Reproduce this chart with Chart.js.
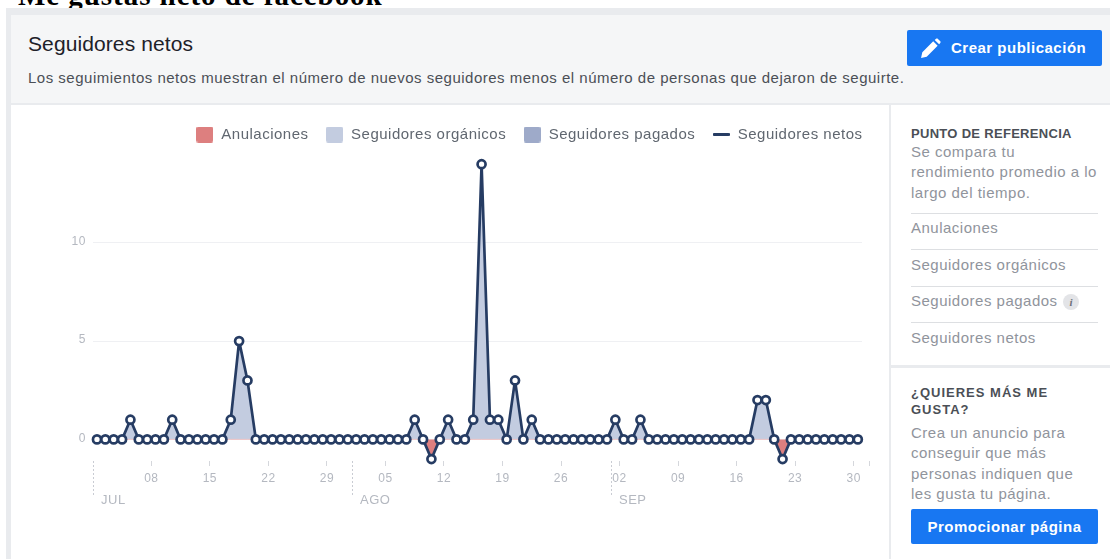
<!DOCTYPE html>
<html lang="es">
<head>
<meta charset="utf-8">
<title>Seguidores netos</title>
<script src="https://cdn.jsdelivr.net/npm/chart.js@4"></script>
<style>
html,body{margin:0;padding:0;background:#fff}
body{width:1110px;height:559px;overflow:hidden;position:relative;font-family:"Liberation Sans",Arial,sans-serif}
.abs{position:absolute;white-space:nowrap}
.boton{position:absolute;background:#1877f2;color:#fff;font-weight:bold;font-size:15px;letter-spacing:.5px;border-radius:2px;text-align:center}
.linea{position:absolute;left:911px;width:187px;height:1px;background:#dddfe2}
.gris{color:#90949c;font-size:15px;letter-spacing:.5px;line-height:20.3px}
</style>
</head>
<body>
<div class="abs" style="left:18px;top:-21px;font:bold 29px 'Liberation Serif',serif;letter-spacing:.95px;color:#000">Me gustas neto de facebook</div>
<div class="abs" style="left:6px;top:8px;width:1104px;height:7px;background:#e9ebee"></div>
<div class="abs" style="left:6px;top:8px;width:5px;height:551px;background:#e9ebee"></div>
<div class="abs" style="left:11px;top:15px;width:1099px;height:88px;background:#f5f6f7"></div>
<div class="abs" style="left:11px;top:103px;width:1099px;height:2px;background:#e9ebee"></div>
<div class="abs" style="left:28px;top:32px;font-size:21px;letter-spacing:.1px;color:#1d2129">Seguidores netos</div>
<div class="abs" style="left:28px;top:69px;font-size:15px;letter-spacing:.5px;color:#4b4f56">Los seguimientos netos muestran el número de nuevos seguidores menos el número de personas que dejaron de seguirte.</div>
<div class="boton" style="left:907px;top:30px;width:195px;height:36px;line-height:35px">
<span style="position:absolute;left:44px;top:0">Crear publicación</span>
<svg style="position:absolute;left:13px;top:8px" width="21" height="21" viewBox="0 0 20 20"><path fill="#fff" d="M1 19l1.2-5.4L12.6 3.2l4.2 4.2L6.4 17.8zM14 1.8l1.3-1.1c.5-.4 1.2-.4 1.6 0l2.4 2.4c.4.4.4 1.1 0 1.6L18.2 6z"/></svg>
</div>

<canvas id="grafico" width="877" height="454" style="position:absolute;left:12px;top:105px"></canvas>

<div class="abs" style="left:889px;top:105px;width:2px;height:454px;background:#e9ebee"></div>
<div class="abs" style="left:911px;top:126px;font-size:13px;font-weight:bold;color:#4b4f56;letter-spacing:.3px">PUNTO DE REFERENCIA</div>
<div class="abs gris" style="left:911px;top:142px">Se compara tu<br>rendimiento promedio a lo<br>largo del tiempo.</div>
<div class="linea" style="top:213px"></div>
<div class="abs gris" style="left:911px;top:218px">Anulaciones</div>
<div class="linea" style="top:249px"></div>
<div class="abs gris" style="left:911px;top:255px">Seguidores orgánicos</div>
<div class="linea" style="top:286px"></div>
<div class="abs gris" style="left:911px;top:291px">Seguidores pagados</div>
<div class="abs" style="left:1063px;top:294px;width:16px;height:16px;border-radius:8px;background:#e3e4e7;color:#6d7078;font:italic bold 11px/16px 'Liberation Serif',serif;text-align:center">i</div>
<div class="linea" style="top:322px"></div>
<div class="abs gris" style="left:911px;top:328px">Seguidores netos</div>
<div class="abs" style="left:891px;top:365px;width:219px;height:3px;background:#e9ebee"></div>
<div class="abs" style="left:911px;top:384px;font-size:13px;font-weight:bold;color:#4b4f56;line-height:17px;letter-spacing:1px">¿QUIERES MÁS ME<br>GUSTA?</div>
<div class="abs gris" style="left:911px;top:423px">Crea un anuncio para<br>conseguir que más<br>personas indiquen que<br>les gusta tu página.</div>
<div class="boton" style="left:911px;top:509px;width:187px;height:35px;line-height:35px">Promocionar página</div>

<script>
// un valor por dia, 1 jul - 30 sep
const netos=[0,0,0,0,1,0,0,0,0,1,0,0,0,0,0,0,1,5,3,0,0,0,0,0,0,0,0,0,0,0,0,
0,0,0,0,0,0,0,1,0,-1,0,1,0,0,1,14,1,1,0,3,0,1,0,0,0,0,0,0,0,0,
0,1,0,0,1,0,0,0,0,0,0,0,0,0,0,0,0,0,2,2,0,-1,0,0,0,0,0,0,0,0,0]
const organicos=[0,0,0,0,1,0,0,0,0,1,0,0,0,0,0,0,1,5,3,0,0,0,0,0,0,0,0,0,0,0,0,
0,0,0,0,0,0,0,1,0,0,0,1,0,0,1,14,1,1,0,3,0,1,0,0,0,0,0,0,0,0,
0,1,0,0,1,0,0,0,0,0,0,0,0,0,0,0,0,0,2,2,0,0,0,0,0,0,0,0,0,0,0]
const anulaciones=[0,0,0,0,0,0,0,0,0,0,0,0,0,0,0,0,0,0,0,0,0,0,0,0,0,0,0,0,0,0,0,
0,0,0,0,0,0,0,0,0,-1,0,0,0,0,0,0,0,0,0,0,0,0,0,0,0,0,0,0,0,0,
0,0,0,0,0,0,0,0,0,0,0,0,0,0,0,0,0,0,0,0,0,-1,0,0,0,0,0,0,0,0,0]
const pagados=[0,0,0,0,0,0,0,0,0,0,0,0,0,0,0,0,0,0,0,0,0,0,0,0,0,0,0,0,0,0,0,
0,0,0,0,0,0,0,0,0,0,0,0,0,0,0,0,0,0,0,0,0,0,0,0,0,0,0,0,0,0,
0,0,0,0,0,0,0,0,0,0,0,0,0,0,0,0,0,0,0,0,0,0,0,0,0,0,0,0,0,0,0]

const tickDias=[7,14,21,28,35,42,49,56,63,70,77,84,91]
const tickEtiquetas=["08","15","22","29","05","12","19","26","02","09","16","23","30"]
const mesDias=[0,31,62]
const mesEtiquetas=["JUL","AGO","SEP"]
const yTicks=[0,5,10]
const nombres=["Anulaciones","Seguidores orgánicos","Seguidores pagados","Seguidores netos"]

const colorTexto="#b4b8c0"
const azul="#263c63"
const rojo="#dd7f7f"
const claro="#c3cce0"
const medio="#9eaac9"
const colores=[rojo,claro,medio,azul]

function puntos(valores){
return valores.map((v,i)=>({x:i+0.5,y:v}))
}

function muestra(color,alto){
let c=document.createElement("canvas")
c.width=17
c.height=alto
let g=c.getContext("2d")
g.fillStyle=color
g.beginPath()
g.roundRect(0,0,17,alto,alto>3?2:1)
g.fill()
return c
}

// lineas punteadas y nombre del mes debajo del eje
const meses={
id:"meses",
beforeUpdate(chart){
chart.ctx.letterSpacing="0.5px"
},
afterLayout(chart){
chart.legend.right+=17.5
},
afterDraw(chart){
let ctx=chart.ctx,x=chart.scales.x,abajo=chart.chartArea.bottom
ctx.save()
ctx.font="13px 'Liberation Sans'"
ctx.fillStyle=colorTexto
ctx.textBaseline="middle"
ctx.lineWidth=1
mesDias.forEach((d,i)=>{
let px=Math.round(x.getPixelForValue(d))+0.5
ctx.strokeStyle="#c9ccd3"
ctx.setLineDash([2,2])
ctx.beginPath()
ctx.moveTo(px,abajo)
ctx.lineTo(px,abajo+34)
ctx.stroke()
ctx.fillText(mesEtiquetas[i],px+7.5,abajo+39)
})
// ultima marca, pasado el 30
let fin=Math.round(x.getPixelForValue(92.85))+0.5
ctx.setLineDash([])
ctx.strokeStyle="#d5d7dc"
ctx.beginPath()
ctx.moveTo(fin,abajo)
ctx.lineTo(fin,abajo+5)
ctx.stroke()
ctx.restore()
}
}

new Chart(document.getElementById("grafico"),{
type:"line",
data:{
datasets:[
{label:nombres[3],data:puntos(netos),borderColor:azul,backgroundColor:azul,borderWidth:2.7,borderJoinStyle:"round",pointRadius:4,pointHoverRadius:4,pointBorderWidth:2.7,pointBackgroundColor:"#fff",pointBorderColor:azul,fill:false,tension:0,order:1,clip:false},
{label:nombres[0],data:puntos(anulaciones),borderColor:"#f0c4c4",backgroundColor:rojo,borderWidth:1,pointRadius:0,fill:"origin",tension:0,order:2},
{label:nombres[1],data:puntos(organicos),borderColor:"transparent",backgroundColor:claro,borderWidth:0,pointRadius:0,fill:"origin",tension:0,order:3},
{label:nombres[2],data:puntos(pagados),borderColor:"transparent",backgroundColor:medio,borderWidth:0,pointRadius:0,fill:"origin",tension:0,order:4}
]
},
options:{
responsive:false,
animation:false,
layout:{padding:{top:5,right:27,bottom:0,left:0}},
scales:{
x:{
type:"linear",
min:0,
max:92,
afterBuildTicks(scale){
scale.ticks=tickDias.map(v=>({value:v}))
},
ticks:{
autoSkip:false,
maxRotation:0,
color:colorTexto,
font:{family:"Liberation Sans",size:12},
padding:5,
callback(v){
let i=tickDias.indexOf(v)
return i<0?"":tickEtiquetas[i]
}
},
afterFit(scale){scale.height=98},
border:{display:false},
grid:{drawOnChartArea:false,drawTicks:true,tickLength:5,color:"#d5d7dc"}
},
y:{
min:-1.1,
max:14.62,
afterBuildTicks(scale){
scale.ticks=yTicks.map(v=>({value:v}))
},
afterFit(scale){scale.width=80.8},
ticks:{color:colorTexto,font:{family:"Liberation Sans",size:12},padding:7,labelOffset:-1},
border:{display:false},
grid:{color:"#eff0f3",drawTicks:false}
}
},
plugins:{
tooltip:{enabled:false},
legend:{
position:"top",
align:"end",
labels:{
usePointStyle:true,
boxHeight:15,
pointStyleWidth:18,
color:"#606770",
font:{family:"Liberation Sans",size:15},
padding:17,
generateLabels(){
return nombres.map((n,i)=>({text:n,fillStyle:colores[i],strokeStyle:colores[i],lineWidth:0,pointStyle:muestra(colores[i],i==3?3:16),fontColor:"#606770",datasetIndex:i}))
}
}
}
}
},
plugins:[meses]
})
</script>
</body>
</html>
